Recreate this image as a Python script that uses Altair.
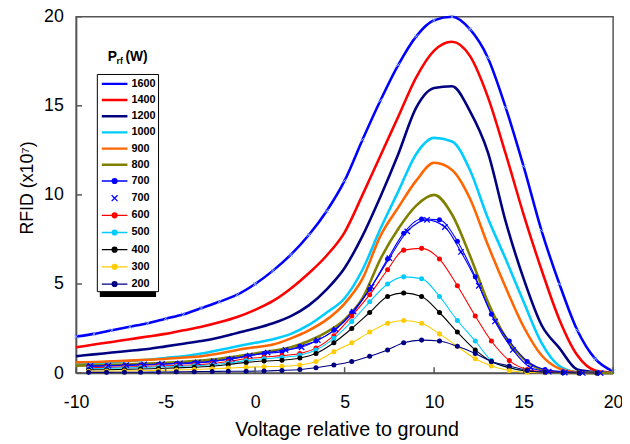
import altair as alt
import pandas as pd

# ---------------- data ----------------
V_LINE = [-10, -9, -8, -7, -6, -5, -4, -3, -2, -1, 0, 1, 2, 3, 4, 5, 6, 7, 8, 9, 10,
          11, 12, 13, 14, 15, 16, 17, 18, 19, 20]
S1600 = [2.05, 2.2, 2.4, 2.6, 2.8, 3.05, 3.3, 3.65, 4.0, 4.4, 5.0, 5.75, 6.65, 7.75, 9.1,
         10.8, 13.1, 15.3, 17.3, 18.9, 19.8, 20.0, 19.3, 17.7, 14.9, 11.6, 8.0, 5.0, 2.4, 0.8, 0.1]
S1400 = [1.45, 1.6, 1.75, 1.9, 2.05, 2.2, 2.4, 2.6, 2.85, 3.15, 3.55, 4.05, 4.75, 5.6, 6.6,
         7.9, 10.0, 12.2, 14.4, 16.6, 18.1, 18.6, 17.8, 15.5, 12.3, 8.9, 5.8, 3.0, 1.0, 0.15, 0.02]
S1200 = [0.95, 1.05, 1.15, 1.25, 1.35, 1.5, 1.65, 1.8, 2.0, 2.25, 2.5, 2.8, 3.2, 3.8, 4.7,
         5.9, 7.7, 9.9, 12.3, 14.9, 16.0, 16.1, 14.7, 12.4, 8.5, 5.3, 2.7, 1.4, 0.2, 0.05, 0.0]
S1000 = [0.5, 0.55, 0.6, 0.68, 0.75, 0.85, 0.95, 1.1, 1.3, 1.5, 1.7, 1.9, 2.2, 2.7, 3.4,
         4.2, 5.8, 8.1, 10.2, 12.3, 13.2, 13.0, 11.4, 8.7, 6.4, 4.0, 1.7, 0.4, 0.05, 0.0, 0.0]
S900 = [0.6, 0.62, 0.66, 0.7, 0.75, 0.8, 0.87, 0.95, 1.1, 1.3, 1.45, 1.6, 1.95, 2.4, 3.0,
        3.9, 5.3, 7.7, 9.3, 10.8, 11.8, 11.4, 9.8, 7.2, 4.8, 2.6, 1.0, 0.25, 0.05, 0.0, 0.0]
S800 = [0.42, 0.44, 0.47, 0.5, 0.54, 0.58, 0.63, 0.7, 0.8, 0.95, 1.1, 1.25, 1.45, 1.8, 2.3,
        3.0, 4.2, 6.4, 8.1, 9.4, 10.0, 8.9, 6.6, 4.0, 2.0, 0.8, 0.2, 0.05, 0.0, 0.0, 0.0]

V_MARK = [-9.3, -8.3, -7.3, -6.4, -5.4, -4.4, -3.4, -2.4, -1.5, -0.5, 0.5, 1.5, 2.5, 3.4,
          4.4, 5.4, 6.4, 7.4, 8.3, 9.3, 10.3, 11.3, 12.3, 13.2, 14.2, 15.2, 16.2, 17.2, 18.1, 19.1]
S700 = [0.38, 0.4, 0.42, 0.45, 0.48, 0.52, 0.57, 0.64, 0.78, 0.95, 1.1, 1.2, 1.5, 1.8, 2.4,
        3.4, 4.7, 6.4, 7.85, 8.65, 8.6, 7.4, 5.4, 3.3, 1.8, 0.65, 0.2, 0.08, 0.03, 0.02]
S600 = [0.3, 0.32, 0.34, 0.37, 0.4, 0.43, 0.47, 0.53, 0.65, 0.8, 0.9, 0.98, 1.1, 1.4, 2.1,
        3.2, 4.4, 5.8, 6.9, 7.0, 6.4, 4.9, 3.2, 1.8, 0.7, 0.2, 0.07, 0.03, 0.01, 0.0]
S500 = [0.25, 0.27, 0.29, 0.31, 0.34, 0.37, 0.41, 0.47, 0.57, 0.7, 0.8, 0.88, 1.0, 1.3, 1.95,
        2.9, 4.0, 5.0, 5.4, 5.3, 4.3, 2.95, 1.8, 0.7, 0.3, 0.1, 0.04, 0.02, 0.01, 0.0]
S400 = [0.18, 0.19, 0.21, 0.23, 0.26, 0.29, 0.33, 0.38, 0.48, 0.6, 0.68, 0.72, 0.85, 1.1, 1.7,
        2.5, 3.4, 4.3, 4.5, 4.3, 3.4, 2.3, 1.3, 0.65, 0.3, 0.1, 0.04, 0.02, 0.01, 0.0]
S300 = [0.1, 0.11, 0.12, 0.13, 0.15, 0.17, 0.2, 0.24, 0.28, 0.33, 0.36, 0.38, 0.45, 0.65, 1.2,
        1.7, 2.3, 2.8, 2.95, 2.8, 2.2, 1.5, 0.8, 0.4, 0.15, 0.05, 0.02, 0.01, 0.0, 0.0]
S200 = [0.04, 0.04, 0.05, 0.05, 0.06, 0.07, 0.08, 0.09, 0.1, 0.1, 0.12, 0.15, 0.2, 0.3, 0.45,
        0.65, 0.95, 1.3, 1.7, 1.85, 1.8, 1.5, 1.1, 0.65, 0.4, 0.15, 0.05, 0.02, 0.01, 0.0]

V_X700 = [-9.2, -8.2, -7.2, -6.2, -5.2, -4.2, -3.2, -2.3, -1.3, -0.3, 0.7, 1.7, 2.6, 3.5,
          4.5, 5.5, 6.5, 7.5, 8.5, 9.6, 10.6, 11.5, 12.5, 13.4, 14.4, 15.4, 16.4, 17.3, 18.3, 19.3]
S700X = [0.4, 0.42, 0.45, 0.48, 0.51, 0.55, 0.6, 0.67, 0.8, 0.98, 1.15, 1.3, 1.45, 1.85, 2.45,
         3.45, 4.85, 6.45, 7.95, 8.6, 8.2, 6.8, 4.9, 2.9, 1.3, 0.3, 0.08, 0.03, 0.01, 0.0]

KEYS = ["1600", "1400", "1200", "1000", "900", "800", "700", "700x",
        "600", "500", "400", "300", "200"]
COLORS = ["#0000FF", "#FF0000", "#000080", "#00CCFF", "#FF6600", "#808000", "#0000FF",
          "#0000FF", "#FF0000", "#00CCFF", "#000000", "#FFCC00", "#000080"]
LINE_KEYS = ["1600", "1400", "1200", "1000", "900", "800"]
DOT_KEYS = ["700", "600", "500", "400", "300", "200"]
X_KEYS = ["700x"]

X_TICKS = [-10, -5, 0, 5, 10, 15, 20]
Y_TICKS = [0, 5, 10, 15, 20]

series = [("1600", V_LINE, S1600), ("1400", V_LINE, S1400), ("1200", V_LINE, S1200),
          ("1000", V_LINE, S1000), ("900", V_LINE, S900), ("800", V_LINE, S800),
          ("700", V_MARK, S700), ("700x", V_X700, S700X), ("600", V_MARK, S600),
          ("500", V_MARK, S500), ("400", V_MARK, S400), ("300", V_MARK, S300),
          ("200", V_MARK, S200)]
rows = []
for k, vs, ys in series:
    for v, y in zip(vs, ys):
        rows.append({"key": k, "v": v, "rfid": y})
df = pd.DataFrame(rows)

# ---------------- styling ----------------
FONT = "Liberation Sans"
W, H = 544, 361

THICK = "M-1.79,-0.076L1.79,-0.076M-1.79,0.076L1.79,0.076"
DOT = ("M-1.79,0L1.79,0M-0.34,0A0.34,0.34 0 1,0 0.34,0A0.34,0.34 0 1,0 -0.34,0"
       "M-0.19,0A0.19,0.19 0 1,0 0.19,0A0.19,0.19 0 1,0 -0.19,0M-0.06,0L0.06,0")
XSYM = "M-0.41,-0.41L0.41,0.41M-0.41,0.41L0.41,-0.41"
PATHS = [THICK] * 6 + [DOT, XSYM] + [DOT] * 5
XMARK = "M-1,-1L1,1M-1,1L1,-1"

cscale = alt.Scale(domain=KEYS, range=COLORS)

x_enc = alt.X("v:Q", scale=alt.Scale(domain=[-10, 20], nice=False, zero=False),
              title="Voltage relative to ground",
              axis=alt.Axis(values=X_TICKS, ticks=False, tickSize=0, labelPadding=21,
                            labelFontSize=18, labelFont=FONT, labelColor="black",
                            labelExpr="replace(datum.label, '\u2212', '-')",
                            titleFontSize=20, titleFont=FONT, titleFontWeight="normal",
                            titleColor="black", titleX=274, titleY=57,
                            titleBaseline="middle", domainColor="#555555", domainWidth=1.5,
                            grid=False, labelFlush=False))
y_enc = alt.Y("rfid:Q", scale=alt.Scale(domain=[0, 20], nice=False),
              title="RFID (x10\u2077)",
              axis=alt.Axis(values=Y_TICKS, ticks=False, tickSize=0, labelPadding=13,
                            labelFontSize=18, labelFont=FONT, labelColor="black",
                            titleFontSize=18, titleFont=FONT, titleFontWeight="normal",
                            titleColor="black", titleAngle=-90, titleX=-49, titleY=173,
                            titleAlign="center", titleBaseline="middle",
                            domainColor="#555555", domainWidth=1.5, grid=False))

legend_props = dict(
    title=None, orient="none", legendX=21, legendY=58, padding=2,
    symbolSize=210, symbolStrokeWidth=1.3, symbolOpacity=1,
    symbolOffset=8, labelOffset=9, rowPadding=3.4,
    labelFont=FONT, labelFontSize=11, labelFontWeight="bold", labelColor="black",
    labelExpr="replace(datum.label, 'x', '')",
    strokeColor="black", fillColor="white")

base = alt.Chart(df)

thick = base.transform_filter(alt.FieldOneOfPredicate(field="key", oneOf=LINE_KEYS)).mark_line(
    strokeWidth=2.6, interpolate="monotone").encode(
    x=x_enc, y=y_enc, color=alt.Color("key:N", scale=cscale, legend=None))

marks1600 = base.transform_filter(alt.FieldEqualPredicate(field="key", equal="1600")).mark_point(
    shape=XMARK, size=18, strokeWidth=0.9, color="#8fb0ff", opacity=1).encode(x=x_enc, y=y_enc)

thin = base.transform_filter(alt.FieldOneOfPredicate(field="key", oneOf=DOT_KEYS + X_KEYS)).mark_line(
    strokeWidth=1.1, interpolate="monotone").encode(
    x=x_enc, y=y_enc, color=alt.Color("key:N", scale=cscale, legend=None))

dots = base.transform_filter(alt.FieldOneOfPredicate(field="key", oneOf=DOT_KEYS)).mark_circle(
    size=26, opacity=1).encode(
    x=x_enc, y=y_enc, color=alt.Color("key:N", scale=cscale, legend=None))

xmarks = base.transform_filter(alt.FieldOneOfPredicate(field="key", oneOf=X_KEYS)).mark_point(
    shape=XMARK, size=30, strokeWidth=1.3, opacity=1).encode(
    x=x_enc, y=y_enc, color=alt.Color("key:N", scale=cscale, legend=None))

legend_layer = base.mark_point(opacity=0, filled=False).encode(
    x=x_enc, y=y_enc,
    color=alt.Color("key:N", scale=cscale, legend=alt.Legend(**legend_props)),
    shape=alt.Shape("key:N", scale=alt.Scale(domain=KEYS, range=PATHS),
                    legend=alt.Legend(**legend_props)))

xt = alt.Chart(pd.DataFrame({"v": X_TICKS})).mark_rule(color="#555555", strokeWidth=1.5).encode(
    x=x_enc, y=alt.value(H), y2=alt.value(H - 6))
yt = alt.Chart(pd.DataFrame({"rfid": Y_TICKS})).mark_rule(color="#555555", strokeWidth=1.5).encode(
    y=y_enc, x=alt.value(0), x2=alt.value(6))

one = pd.DataFrame({"a": [0]})
shadow = alt.Chart(one).mark_rect(color="black").encode(
    x=alt.value(24), x2=alt.value(81), y=alt.value(61), y2=alt.value(284))
t_p = alt.Chart(one).mark_text(text="P", font=FONT, fontSize=14, fontWeight="bold",
                               align="left", baseline="alphabetic", color="black").encode(
    x=alt.value(32), y=alt.value(45))
t_rf = alt.Chart(one).mark_text(text="rf", font=FONT, fontSize=9, fontWeight="bold",
                                align="left", baseline="alphabetic", color="black").encode(
    x=alt.value(41), y=alt.value(48))
t_w = alt.Chart(one).mark_text(text="(W)", font=FONT, fontSize=14, fontWeight="bold",
                               align="left", baseline="alphabetic", color="black").encode(
    x=alt.value(50), y=alt.value(45))

chart = alt.layer(
    shadow, thick, marks1600, thin, dots, xmarks, legend_layer, xt, yt, t_p, t_rf, t_w
).resolve_scale(color="independent", shape="independent").properties(
    width=W, height=H,
    autosize=alt.AutoSizeParams(type="none"),
    padding={"left": 69, "top": 6, "right": 9, "bottom": 69},
).configure_view(stroke="#555555", strokeWidth=1.5)

chart.save("out.html", embed_options={"renderer": "svg", "actions": False})
